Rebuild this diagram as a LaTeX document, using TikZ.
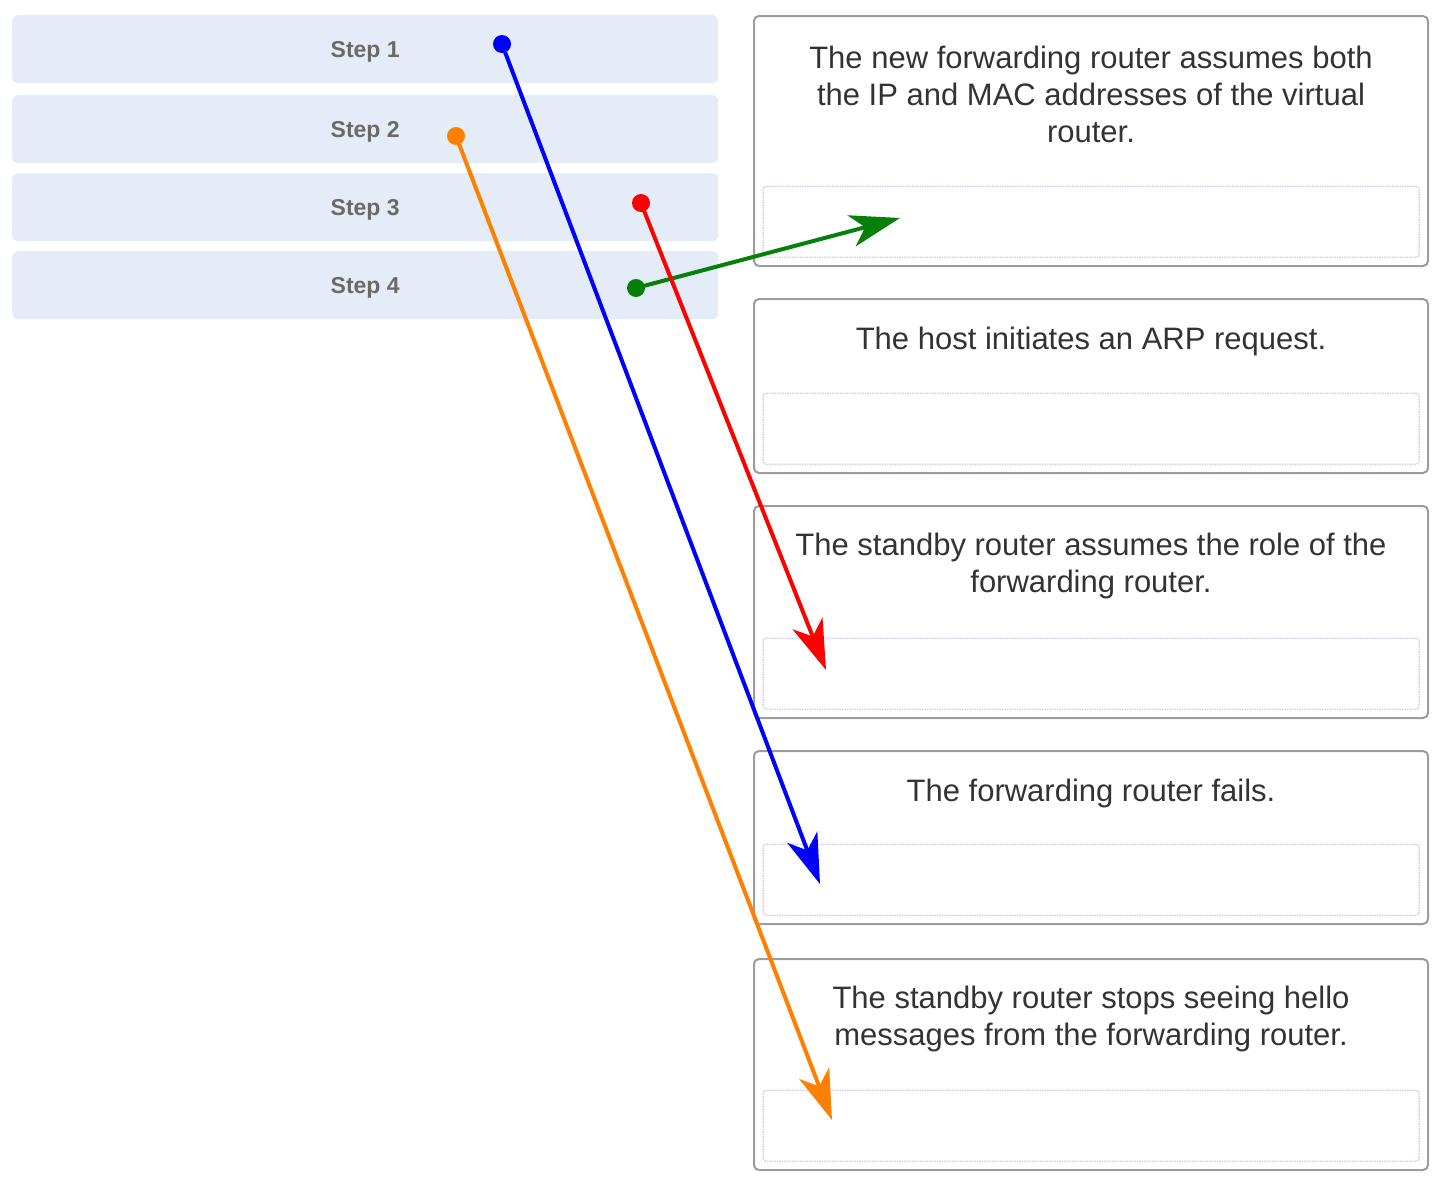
\documentclass[tikz,border=0pt]{standalone}
\usepackage{fontspec}
\setmainfont{Liberation Sans}
\usetikzlibrary{positioning,arrows.meta}
\definecolor{stepfill}{HTML}{E4ECF8}
\definecolor{steptext}{HTML}{6A6A6A}
\definecolor{cardline}{HTML}{9C9CA0}
\definecolor{dropline}{HTML}{CFCFEA}
\definecolor{cardtext}{HTML}{333333}
\definecolor{linkorange}{HTML}{FF8000}
\definecolor{linkgreen}{HTML}{07800A}
\begin{document}
\begin{tikzpicture}[x=1pt,y=-1pt,
    stepbox/.style={fill=stepfill,rounded corners=6pt,minimum width=706pt,minimum height=68pt,anchor=north west,inner sep=0pt,text depth=0pt,text=steptext,font=\fontsize{23}{27}\selectfont\bfseries},
    cardbox/.style={draw=cardline,line width=2pt,rounded corners=5pt,minimum width=674pt,anchor=north west,inner sep=0pt},
    droparea/.style={draw=dropline,densely dotted,line width=1.5pt,rounded corners=3pt,minimum width=656pt,minimum height=71pt,inner sep=0pt},
    cardtext/.style={align=center,inner sep=0pt,text=cardtext,font=\fontsize{31}{37}\selectfont},
    link/.style={line width=4pt,-{Stealth[length=50pt,width=32pt,inset=14pt]}},
    dot/.style={circle,fill,inner sep=0pt,minimum size=18pt}]
    \useasboundingbox (0,0) rectangle (1440,1186);
    % the four steps
    \foreach \i/\y in {1/15,2/95,3/173,4/251}
        \node[stepbox] (step\i) at (12,\y) {Step \i};
    % the five statements
    \node[cardbox,minimum height=250pt] (card1) at (753,15) {};
    \node[cardbox,minimum height=174pt] (card2) at (753,298) {};
    \node[cardbox,minimum height=212pt] (card3) at (753,505) {};
    \node[cardbox,minimum height=173pt] (card4) at (753,750) {};
    \node[cardbox,minimum height=211pt] (card5) at (753,958) {};
    \foreach \i in {1,...,5}
        \node[droparea,above=9pt of card\i.south] (drop\i) {};
    \node[cardtext,below=31pt of card1.north] (text1) {The new forwarding router assumes both\\the IP and MAC addresses of the virtual\\router.};
    \node[cardtext,below=29pt of card2.north] (text2) {The host initiates an ARP request.};
    \node[cardtext,below=28pt of card3.north] (text3) {The standby router assumes the role of the\\forwarding router.};
    \node[cardtext,below=29pt of card4.north] (text4) {The forwarding router fails.};
    \node[cardtext,below=28pt of card5.north] (text5) {The standby router stops seeing hello\\messages from the forwarding router.};
    % the answers
    \coordinate (from1) at (502,44);
    \coordinate (to1) at (820,884);
    \coordinate (from2) at (456,136);
    \coordinate (to2) at (832,1120);
    \coordinate (from3) at (641,203);
    \coordinate (to3) at (826,670);
    \coordinate (from4) at (636,288);
    \coordinate (to4) at (900,218);
    \draw[link,linkorange] (from2) -- (to2);
    \node[dot,linkorange] (dot2) at (from2) {};
    \draw[link,blue] (from1) -- (to1);
    \node[dot,blue] (dot1) at (from1) {};
    \draw[link,linkgreen] (from4) -- (to4);
    \node[dot,linkgreen] (dot4) at (from4) {};
    \draw[link,red] (from3) -- (to3);
    \node[dot,red] (dot3) at (from3) {};
\end{tikzpicture}
\end{document}
